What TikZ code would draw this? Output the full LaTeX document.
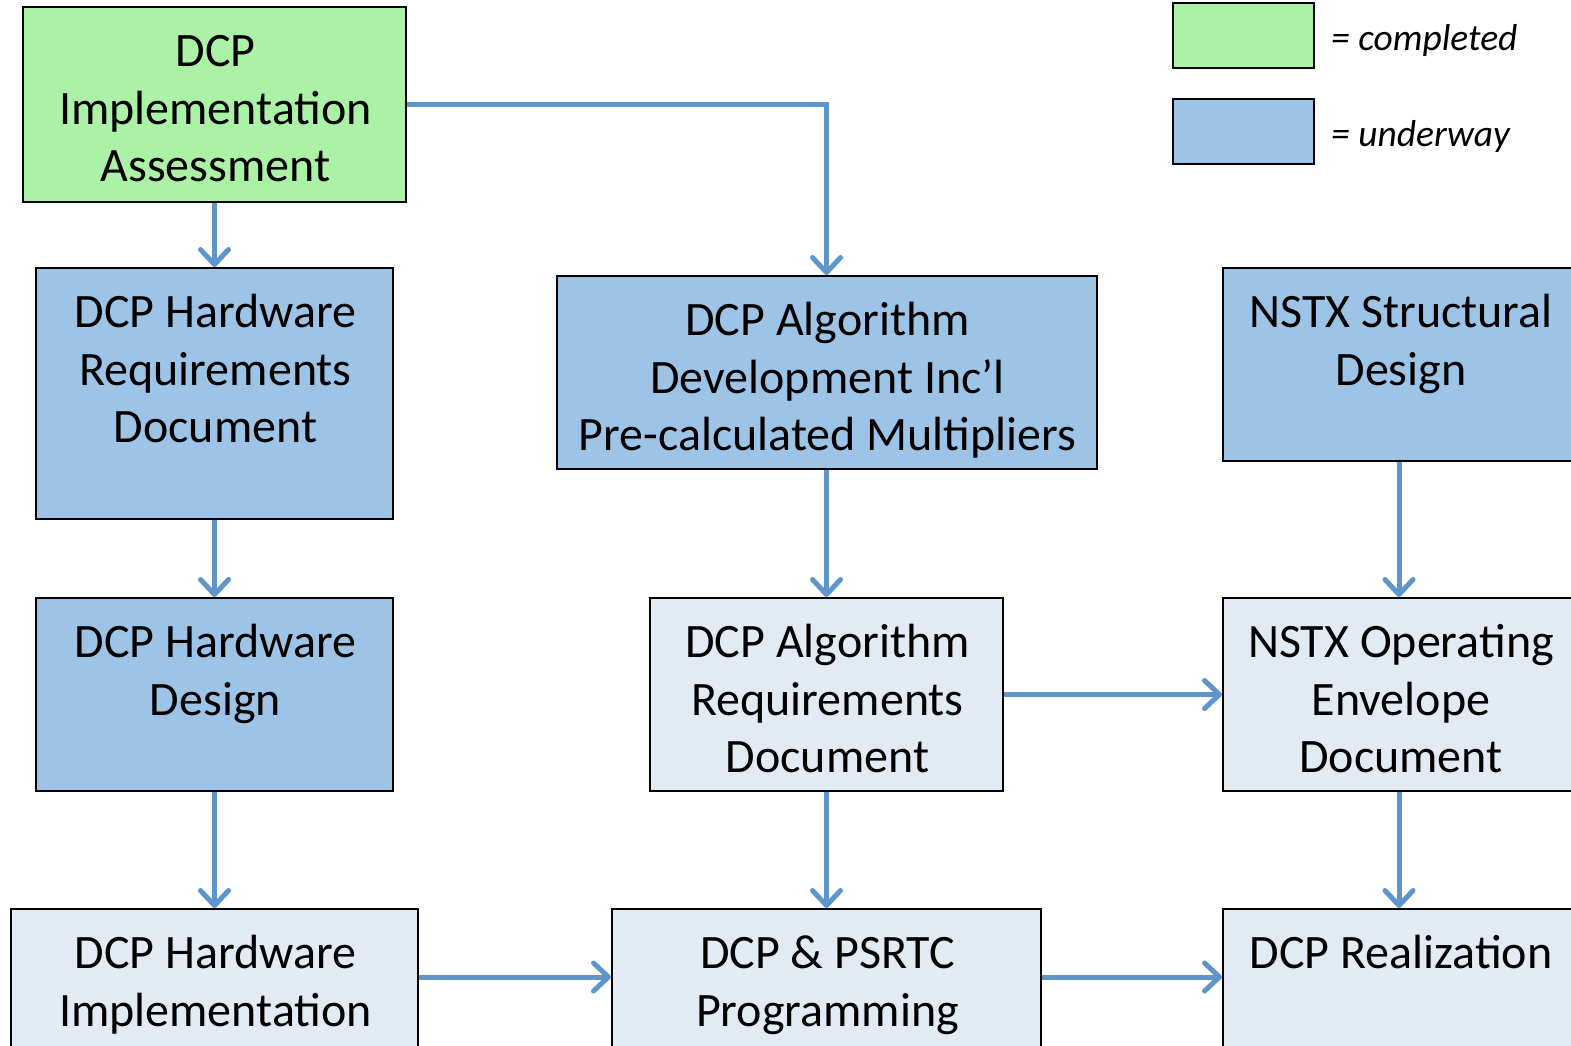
\documentclass[tikz,border=0pt]{standalone}
\usepackage{fontspec}
\setmainfont{Carlito}
\usetikzlibrary{arrows.meta}
\definecolor{donegreen}{HTML}{ABF2A7}
\definecolor{waybblue}{HTML}{9DC3E6}
\definecolor{plannedblue}{HTML}{E2EAF4}
\definecolor{arrowblue}{HTML}{5E95CB}
\tikzset{
  box/.style={draw=black, line width=2pt, inner sep=0pt, rectangle},
  txt/.style={anchor=north, inner sep=0pt, align=center, font=\fontsize{48}{57.5}\selectfont},
  legtxt/.style={anchor=base west, inner sep=0pt, font=\fontsize{37.5}{45}\selectfont\itshape},
  arr/.style={draw=arrowblue, line width=5pt, -{Straight Barb[length=15pt,width=28pt,round]}},
}
\newcommand{\firststrut}{\rule{0pt}{40pt}}
\begin{document}
\begin{tikzpicture}[x=1pt,y=-1pt]
\useasboundingbox (0,0) rectangle (1571,1045);
\clip (0,0) rectangle (1571,1045);
% boxes: centre x, centre y, width, height
\node[box, fill=donegreen, minimum width=383pt, minimum height=195pt] (A) at (214.5,104.5) {};
\node[box, fill=waybblue, minimum width=357pt, minimum height=251pt] (B) at (214.5,393.5) {};
\node[box, fill=waybblue, minimum width=540pt, minimum height=193pt] (C) at (826.5,372.5) {};
\node[box, fill=waybblue, minimum width=352pt, minimum height=193pt] (D) at (1399,364.5) {};
\node[box, fill=waybblue, minimum width=357pt, minimum height=193pt] (E) at (214.5,694.5) {};
\node[box, fill=plannedblue, minimum width=353pt, minimum height=193pt] (F) at (826.5,694.5) {};
\node[box, fill=plannedblue, minimum width=352pt, minimum height=193pt] (G) at (1399,694.5) {};
\node[box, fill=plannedblue, minimum width=407pt, minimum height=193pt] (H) at (214.5,1005.5) {};
\node[box, fill=plannedblue, minimum width=429pt, minimum height=193pt] (I) at (826.5,1005.5) {};
\node[box, fill=plannedblue, minimum width=352pt, minimum height=193pt] (J) at (1399,1005.5) {};
% texts (first baseline = top + 59.5)
\node[txt] (At) at (215.5,26.5) {\firststrut DCP\\Implementation\\Assessment};
\node[txt] (Bt) at (215.5,287.5) {\firststrut DCP Hardware\\Requirements\\Document};
\node[txt] (Ct) at (827.5,295.5) {\firststrut DCP Algorithm\\Development Inc’l\\Pre-calculated Multipliers};
\node[txt] (Dt) at (1401,287.5) {\firststrut NSTX Structural\\Design};
\node[txt] (Et) at (215.5,617.5) {\firststrut DCP Hardware\\Design};
\node[txt] (Ft) at (827.5,617.5) {\firststrut DCP Algorithm\\Requirements\\Document};
\node[txt] (Gt) at (1401,617.5) {\firststrut NSTX Operating\\Envelope\\Document};
\node[txt] (Ht) at (215.5,928.5) {\firststrut DCP Hardware\\Implementation};
\node[txt] (It) at (827.5,928.5) {\firststrut DCP \& PSRTC\\Programming};
\node[txt] (Jt) at (1401,928.5) {\firststrut DCP Realization};
% legend
\node[box, fill=donegreen, minimum width=141pt, minimum height=65pt] (LG) at (1243,35.5) {};
\node[box, fill=waybblue, minimum width=141pt, minimum height=65pt] (LB) at (1243,131) {};
\node[legtxt] (LGt) at (1331,50) {= completed};
\node[legtxt] (LBt) at (1331,146) {= underway};
% connectors
\draw[arr] (A.south) -- (B.north);
\draw[arr] (A.east) -| (C.north);
\draw[arr] (B.south) -- (E.north);
\draw[arr] (E.south) -- (H.north);
\draw[arr] (C.south) -- (F.north);
\draw[arr] (F.south) -- (I.north);
\draw[arr] (D.south) -- (G.north);
\draw[arr] (G.south) -- (J.north);
\draw[arr] (F.east) -- (G.west);
\draw[arr] (H.east |- 0,977) -- (I.west |- 0,977);
\draw[arr] (I.east |- 0,977) -- (J.west |- 0,977);
\end{tikzpicture}
\end{document}
